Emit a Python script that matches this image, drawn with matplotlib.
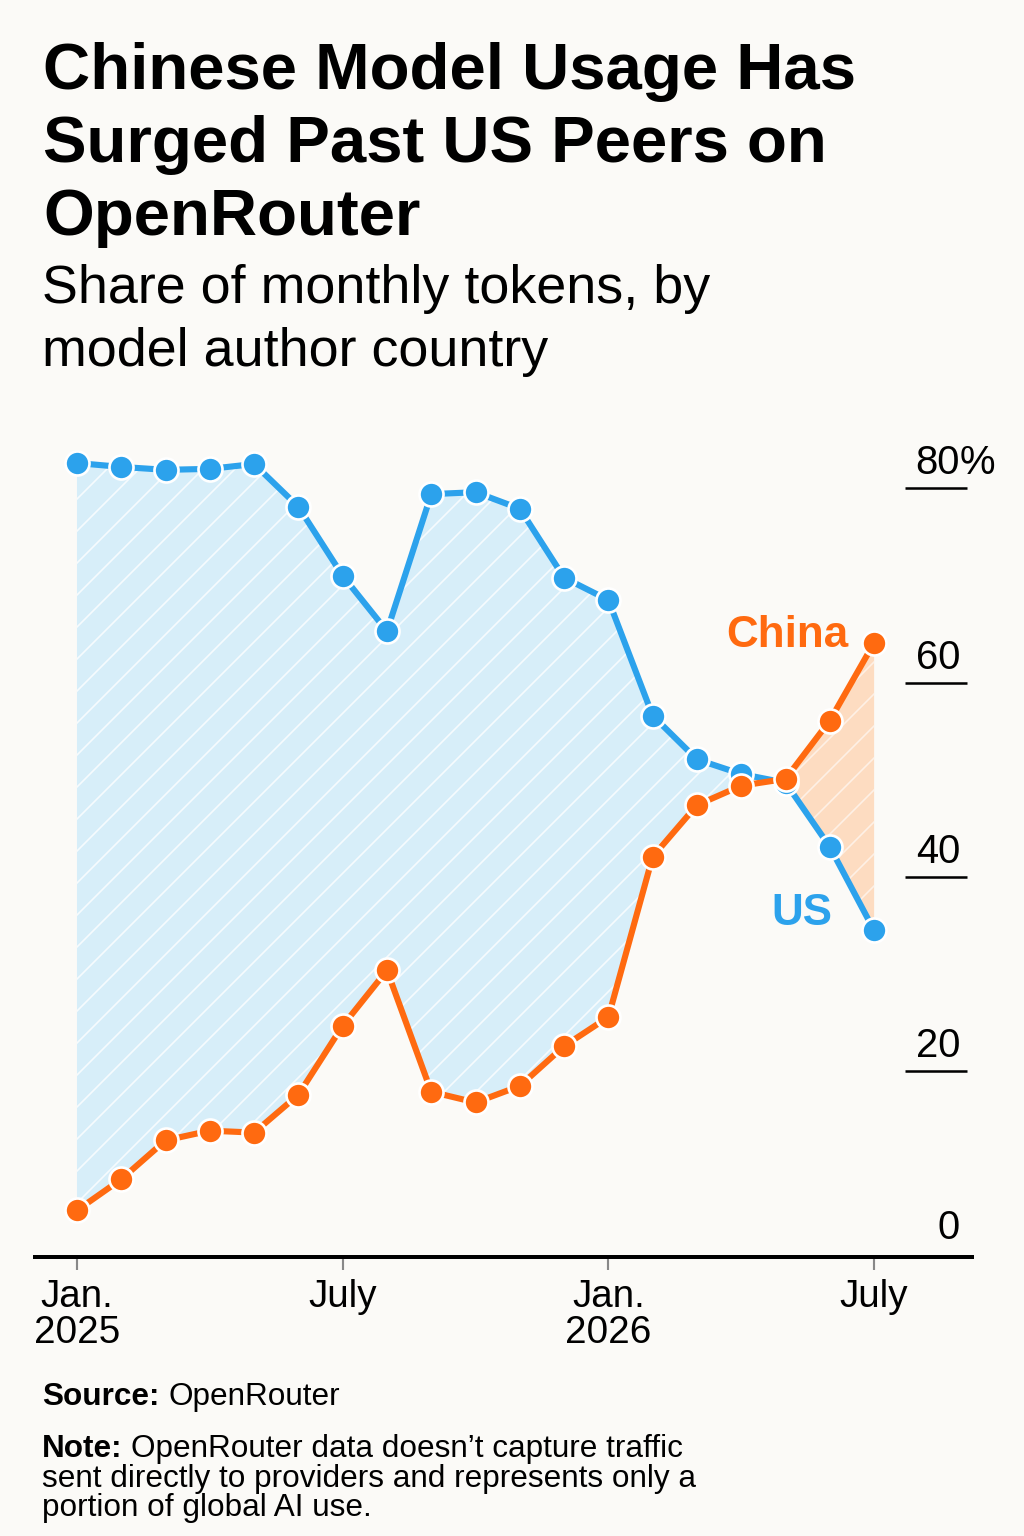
import numpy as np
import matplotlib
matplotlib.use("Agg")
import matplotlib.pyplot as plt

# ---------------- data ----------------
months = ["2025-01", "2025-02", "2025-03", "2025-04", "2025-05", "2025-06",
          "2025-07", "2025-08", "2025-09", "2025-10", "2025-11", "2025-12",
          "2026-01", "2026-02", "2026-03", "2026-04", "2026-05", "2026-06",
          "2026-07"]
us_share = [82.6, 82.2, 81.9, 82.0, 82.5, 78.1, 71.0, 65.3, 79.4, 79.6,
            77.9, 70.8, 68.5, 56.6, 52.1, 50.6, 49.7, 43.1, 34.5]
china_share = [5.7, 8.9, 12.9, 13.9, 13.7, 17.6, 24.7, 30.4, 17.9, 16.8,
               18.5, 22.6, 25.6, 42.1, 47.4, 49.4, 50.1, 56.1, 64.1]
xtick_pos = [0, 6, 12, 18]
xtick_labels = ["Jan.\n2025", "July", "Jan.\n2026", "July"]
ytick_vals = [0, 20, 40, 60, 80]

title_lines = ["Chinese Model Usage Has", "Surged Past US Peers on", "OpenRouter"]
subtitle_lines = ["Share of monthly tokens, by", "model author country"]

# ---------------- style ----------------
BG = "#FBFAF7"
BLUE = "#2CA2EC"
ORANGE = "#FF6A10"
BLUE_FILL = "#D7EEF9"
ORANGE_FILL = "#FDDCC1"
FONT = "Liberation Sans"

plt.rcParams["font.family"] = [FONT, "DejaVu Sans"]
plt.rcParams["hatch.linewidth"] = 0.6

DPI = 192
W, H = 1024, 1536
fig = plt.figure(figsize=(W / DPI, H / DPI), dpi=DPI, facecolor=BG)

def fx(px):
    return px / W

def fy(py):
    return 1 - py / H

ax_left, ax_right, ax_top, ax_bot = 35, 972, 430, 1257
ax = fig.add_axes([fx(ax_left), fy(ax_bot), (ax_right - ax_left) / W, (ax_bot - ax_top) / H])
ax.set_facecolor(BG)

x = np.arange(len(months))
us = np.array(us_share)
cn = np.array(china_share)

ax.fill_between(x, us, cn, where=us >= cn, interpolate=True,
                facecolor=BLUE_FILL, edgecolor=(1, 1, 1, 0.8), linewidth=0,
                hatch="//", zorder=1)
ax.fill_between(x, us, cn, where=cn >= us, interpolate=True,
                facecolor=ORANGE_FILL, edgecolor=(1, 1, 1, 0.6), linewidth=0,
                hatch="//", zorder=1)

ax.plot(x, us, color=BLUE, lw=2.3, marker="o", ms=9.0, mfc=BLUE,
        mec="white", mew=1.0, zorder=3, solid_capstyle="round")
ax.plot(x, cn, color=ORANGE, lw=2.3, marker="o", ms=9.0, mfc=ORANGE,
        mec="white", mew=1.0, zorder=4, solid_capstyle="round")

ax.set_xlim(-0.948, 20.21)
ax.set_ylim(0.9, 86.0)

for s in ["left", "right", "top"]:
    ax.spines[s].set_visible(False)
ax.spines["bottom"].set_color("black")
ax.spines["bottom"].set_linewidth(1.5)

ax.set_yticks([])
ax.set_xticks(xtick_pos)
ax.set_xticklabels(xtick_labels, fontsize=14.5, linespacing=1.0)
ax.tick_params(axis="x", direction="out", length=4.9, width=0.8,
               color="#888888", pad=3.5, labelcolor="black")
for lbl in ax.get_xticklabels():
    lbl.set_horizontalalignment("center")

# y labels with short rules on the right
ytr = ax.get_yaxis_transform()
for v in ytick_vals:
    if v != 0:
        ax.plot([0.9285, 0.9947], [v, v], transform=ytr, color="black",
                lw=0.95, solid_capstyle="butt", zorder=2, clip_on=False)
        off = 5.3
    else:
        off = 10.0
    ax.annotate(str(v), xy=(0.9872, v), xycoords=ytr, xytext=(0, off),
                textcoords="offset points", ha="right", va="baseline",
                fontsize=15, color="black")
    if v == 80:
        ax.annotate("%", xy=(0.9872, v), xycoords=ytr, xytext=(0, off),
                    textcoords="offset points", ha="left", va="baseline",
                    fontsize=15, color="black")

# series labels
ax.text(16.03, 63.7, "China", color=ORANGE, fontsize=16.5, fontweight="bold",
        ha="center", va="baseline", zorder=5)
ax.text(16.37, 35.1, "US", color=BLUE, fontsize=16.5, fontweight="bold",
        ha="center", va="baseline", zorder=5)

# ---------------- titles ----------------
for i, (line, base) in enumerate(zip(title_lines, [89, 162, 235])):
    fig.text(fx(43), fy(base), line, fontsize=24.5, fontweight="bold",
             ha="left", va="baseline", color="black")
for line, base in zip(subtitle_lines, [303, 366]):
    fig.text(fx(42), fy(base), line, fontsize=20.2, ha="left",
             va="baseline", color="black")

# ---------------- footer ----------------
FS = 11.8
t1 = fig.text(fx(42), fy(1405), "Source:", fontsize=FS, fontweight="bold",
              ha="left", va="baseline")
fig.canvas.draw()
r = fig.canvas.get_renderer()
bb = t1.get_window_extent(r)
fig.text((bb.x1 + 0.278 * FS * DPI / 72) / W, fy(1405), "OpenRouter",
         fontsize=FS, ha="left", va="baseline")

t2 = fig.text(fx(42), fy(1457), "Note:", fontsize=FS, fontweight="bold",
              ha="left", va="baseline")
bb2 = t2.get_window_extent(r)
fig.text((bb2.x1 + 0.278 * FS * DPI / 72) / W, fy(1457),
         "OpenRouter data doesn\u2019t capture traffic",
         fontsize=FS, ha="left", va="baseline")
fig.text(fx(42), fy(1487), "sent directly to providers and represents only a",
         fontsize=FS, ha="left", va="baseline")
fig.text(fx(42), fy(1516), "portion of global AI use.",
         fontsize=FS, ha="left", va="baseline")

fig.savefig("out.png", dpi=DPI, facecolor=BG)
